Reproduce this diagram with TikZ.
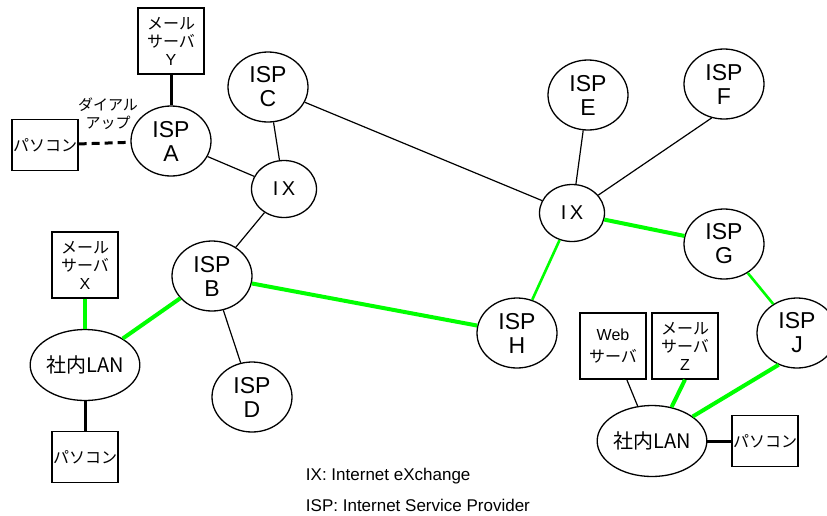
\documentclass[tikz,border=0pt]{standalone}
\usepackage{fontspec}
\setmainfont{Liberation Sans}
\newfontfamily\jp{Noto Sans CJK JP}
\usetikzlibrary{shapes.geometric,positioning}

\begin{document}
\begin{tikzpicture}[x=1pt,y=-1pt,on grid,line width=1.3pt,
	isp/.style={ellipse,draw,minimum width=80pt,minimum height=70pt,inner sep=0pt,align=center,font=\fontsize{23}{24}\selectfont},
	ix/.style={ellipse,draw,minimum width=65pt,minimum height=57pt,inner sep=0pt,font=\fontsize{20}{24}\selectfont},
	lan/.style={ellipse,draw,minimum width=80pt,minimum height=71pt,inner sep=0pt,font=\fontsize{20}{22}\jp},
	srv/.style={rectangle,draw,minimum width=66pt,minimum height=66pt,inner sep=0pt,align=center,font=\fontsize{16}{18}\selectfont},
	pc/.style={rectangle,draw,minimum width=66pt,minimum height=51pt,inner sep=0pt,font=\fontsize{16}{18}\jp},
	wire/.style={line width=1.2pt},
	cable/.style={line width=3pt},
	route/.style={draw=green,line width=4pt},
	route2/.style={draw=green,line width=2.6pt}]

	\useasboundingbox (0,0) rectangle (827,515);

	% left side
	\node[isp] (a) at (171,141) {ISP\\A};
	\node[srv] (y) [above=100pt of a] {{\jp メール}\\{\jp サーバ}\\Y};
	\node[pc] (pca) [below left=4pt and 126pt of a] {パソコン};
	\node[align=center,font=\fontsize{15}{18}\jp] (dial) [above left=27pt and 63pt of a] {ダイアル\\アップ};
	\node[isp] (c) [above right=54pt and 97pt of a] {ISP\\C};
	\node[ix] (ix1) [below right=48pt and 113pt of a] {I\,X};
	\node[isp] (b) [below left=87pt and 72pt of ix1] {ISP\\B};
	\node[isp] (d) [below right=121pt and 40pt of b] {ISP\\D};
	\node[srv] (x) [above left=11pt and 127pt of b] {{\jp メール}\\{\jp サーバ}\\X};
	\node[lan] (lan1) [below=100pt of x] {社内LAN};
	\node[pc] (pc1) [below=92pt of lan1] {パソコン};

	% right side
	\node[ix] (ix2) [below right=24pt and 288pt of ix1] {I\,X};
	\node[isp] (e) [above right=118pt and 16pt of ix2] {ISP\\E};
	\node[isp] (f) [above right=129pt and 152pt of ix2] {ISP\\F};
	\node[isp] (g) [below right=31pt and 152pt of ix2] {ISP\\G};
	\node[isp] (h) [below left=120pt and 55pt of ix2] {ISP\\H};
	\node[isp] (j) [below right=89pt and 73pt of g] {ISP\\J};
	\node[lan] (lan2) [below left=108pt and 145pt of j] {社内LAN};
	\node[srv] (web) [above left=95pt and 39pt of lan2] {Web\\[4pt]{\jp サーバ}};
	\node[srv] (z) [above right=95pt and 33pt of lan2] {{\jp メール}\\{\jp サーバ}\\Z};
	\node[pc] (pc2) [right=113pt of lan2] {パソコン};

	% legend
	\node[anchor=base west,font=\fontsize{17}{20}\selectfont] (lgix) at (302,480) {IX: Internet eXchange};
	\node[anchor=base west,font=\fontsize{17}{20}\selectfont] (lgisp) at (302,511) {ISP: Internet Service Provider};

	\path
		(y)    edge[cable] (a)
		(pca)  edge[cable,dash pattern=on 8pt off 5pt,shorten >=4pt] (a)
		(a)    edge[wire] (ix1)
		(c)    edge[wire] (ix1)
		       edge[wire] (ix2)
		(ix1)  edge[wire] (b)
		(b)    edge[wire] (d)
		       edge[route] (h)
		       edge[route] (lan1)
		(x)    edge[route] (lan1)
		(lan1) edge[cable] (pc1)
		(e)    edge[wire] (ix2)
		(f.250) edge[wire] (ix2)
		(ix2)  edge[route] (g)
		       edge[route2] (h)
		(g)    edge[route2] (j)
		(web)  edge[wire] (lan2)
		(z.south) edge[route] (lan2.60)
		(j.240) edge[route] (lan2)
		(lan2) edge[cable] (pc2);
\end{tikzpicture}
\end{document}
